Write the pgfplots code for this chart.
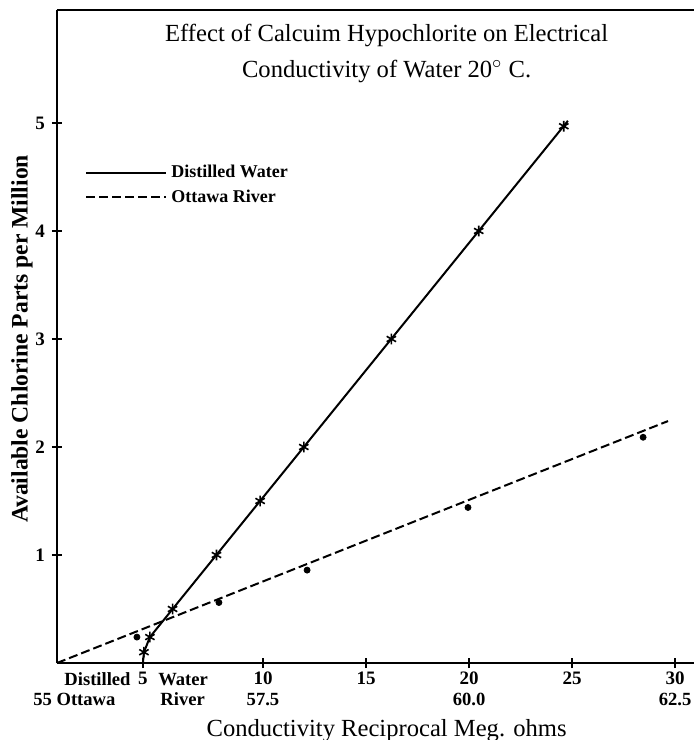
\documentclass[border=0pt]{standalone}
\usepackage{fontspec}
\setmainfont{Liberation Serif}
\usepackage{pgfplots}
\pgfplotsset{compat=1.18}
\begin{document}
\begin{tikzpicture}
\begin{axis}[
  at={(0,0)}, anchor=south west,
  scale only axis, width=318.5pt, height=326.5pt,
  xmin=0, xmax=30.92, ymin=0, ymax=6.046,
  axis x line*=bottom, axis y line*=left,
  axis line style={line width=1.1pt, -},
  tick align=center, major tick length=5pt,
  tick style={line width=0.8pt, black},
  xtick={4.17,10,15,20,25,30}, xticklabels={5,10,15,20,25,30},
  ytick={1,2,3,4,5},
  /pgf/number format/assume math mode=true,
  ticklabel style={font=\bfseries\fontsize{9.5}{11}\selectfont},
  xticklabel style={yshift=1.5pt},
  clip=false,
  legend style={draw=none, fill=none, at={(rel axis cs:0.044,0.769)}, anchor=north west,
    font=\bfseries\fontsize{9}{11}\selectfont, row sep=0.5pt, inner sep=0pt},
  legend cell align=left,
  legend image code/.code={\draw[#1] (0pt,0pt) -- (40pt,0pt);},
]
\addplot[line width=1pt, black] coordinates {(4.17,0) (4.22,0.10) (4.51,0.24) (24.8,5.02)};
\addlegendentry{Distilled Water}
\addplot[line width=1pt, black, dash pattern=on 4.5pt off 2pt] coordinates {(0,0) (29.66,2.24)};
\addlegendentry{Ottawa River}
\addplot[only marks, black, mark=asterisk, mark size=2.7pt, mark options={line width=0.8pt}, forget plot]
  coordinates {(4.22,0.10) (4.51,0.24) (5.61,0.5) (7.74,1.0) (9.86,1.5) (11.98,2.0) (16.23,3.0) (20.47,4.0) (24.6,4.97)};
\addplot[only marks, black, mark=*, mark size=1.5pt, forget plot]
  coordinates {(3.88,0.24) (7.86,0.56) (12.14,0.86) (19.95,1.44) (28.45,2.09)};
\draw[line width=1.1pt] (rel axis cs:0,1) -- (rel axis cs:1,1);
% title
\node[font=\fontsize{12.3}{14}\selectfont] at (axis cs:16,5.81) {Effect of Calcuim Hypochlorite on Electrical};
\node[font=\fontsize{12.3}{14}\selectfont] at (axis cs:16,5.48) {Conductivity of Water 20$^\circ$ C.};
% y label
\node[rotate=90, font=\bfseries\fontsize{11.8}{13}\selectfont] at ([xshift=-17.5pt]axis cs:0,3) {Available Chlorine Parts per Million};
% x label
\node[anchor=base, font=\fontsize{12.3}{14}\selectfont] at ([yshift=-36.5pt]axis cs:16,0) {Conductivity Reciprocal Meg. ohms};
% extra x tick texts
\begin{scope}[every node/.style={font=\bfseries\fontsize{9.3}{11}\selectfont, inner sep=0pt}]
\node[anchor=base east] at ([yshift=-11pt]axis cs:3.59,0) {Distilled};
\node[anchor=base west] at ([yshift=-11pt]axis cs:4.9,0) {Water};
\node[anchor=base west] at ([yshift=-21pt]axis cs:-1.17,0) {55 Ottawa};
\node[anchor=base west] at ([yshift=-21pt]axis cs:5.0,0) {River};
\node[anchor=base] at ([yshift=-21pt]axis cs:10,0) {57.5};
\node[anchor=base] at ([yshift=-21pt]axis cs:20,0) {60.0};
\node[anchor=base] at ([yshift=-21pt]axis cs:30,0) {62.5};
\end{scope}
\end{axis}
\pgfresetboundingbox
\useasboundingbox (-28.5pt,-38.5pt) rectangle (318.5pt,331.5pt);
\end{tikzpicture}
\end{document}
